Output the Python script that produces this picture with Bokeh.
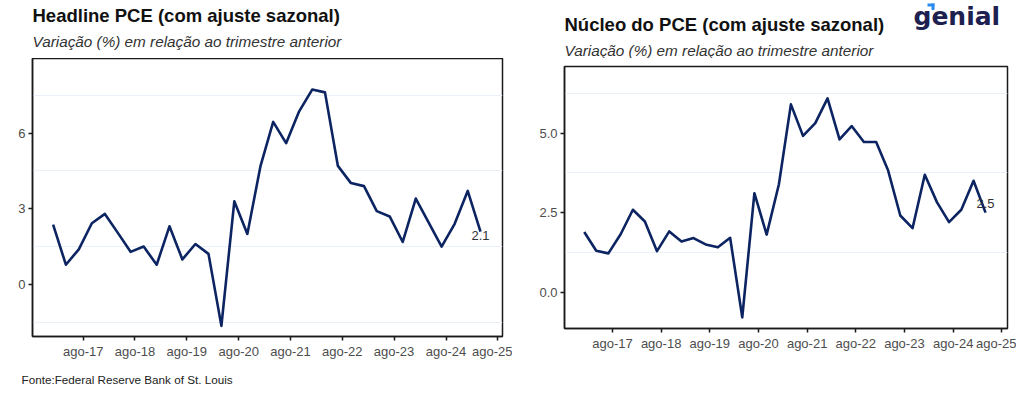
import pandas as pd
from bokeh.plotting import figure
from bokeh.layouts import row, column
from bokeh.models import Range1d, FixedTicker, Label, BoxAnnotation, NumeralTickFormatter
from bokeh.embed import file_html
from bokeh.resources import INLINE

# ---------------- data ----------------
quarters = pd.date_range("2017-01-01", periods=34, freq="QS")
headline_pce = [2.38, 0.79, 1.40, 2.43, 2.80, 2.06, 1.30, 1.51, 0.79, 2.31, 1.00, 1.61,
                1.22, -1.63, 3.30, 2.01, 4.68, 6.44, 5.60, 6.86, 7.72, 7.61, 4.70, 4.02,
                3.90, 2.91, 2.70, 1.69, 3.41, 2.46, 1.51, 2.41, 3.71, 2.10]
core_pce = [1.89, 1.30, 1.22, 1.82, 2.59, 2.22, 1.29, 1.91, 1.59, 1.70, 1.50, 1.41,
            1.71, -0.79, 3.11, 1.81, 3.39, 5.90, 4.91, 5.31, 6.09, 4.80, 5.22, 4.72,
            4.72, 3.82, 2.41, 2.01, 3.69, 2.83, 2.20, 2.59, 3.50, 2.50]
xtick_dates = ["2017-08-01", "2018-08-01", "2019-08-01", "2020-08-01", "2021-08-01",
               "2022-08-01", "2023-08-01", "2024-08-01", "2025-08-01"]
xtick_labels = ["ago-17", "ago-18", "ago-19", "ago-20", "ago-21", "ago-22", "ago-23",
                "ago-24", "ago-25"]
left_yticks = [0, 3, 6]
left_yminor = [-1.5, 1.5, 4.5, 7.5]
right_yticks = [0.0, 2.5, 5.0]
right_yminor = [1.25, 3.75, 6.25]

left_title = "Headline PCE (com ajuste sazonal)"
right_title = "Núcleo do PCE (com ajuste sazonal)"
subtitle = "Variação (%) em relação ao trimestre anterior"
source = "Fonte:Federal Reserve Bank of St. Louis"
logo_text = "genial"

LINE = "#0c2461"
FONT = "Liberation Sans"
YEAR_MS = 365.25 * 86400000
TOTAL_W = 1016


def ms(ts):
    return int(pd.Timestamp(ts).value // 10**6)


tick_ms = [ms(d) for d in xtick_dates]
x_ms = [ms(d) for d in quarters]


def blank(w, h):
    b = figure(width=w, height=h, output_backend="svg", toolbar_location=None,
               x_axis_location=None, y_axis_location=None,
               x_range=Range1d(0, w), y_range=Range1d(0, h),
               min_border=0, min_border_left=0, min_border_right=0,
               min_border_top=0, min_border_bottom=0)
    b.frame_align = False
    b.outline_line_color = None
    b.grid.visible = False
    b.background_fill_color = "white"
    b.border_fill_color = "white"
    return b


def make_panel(values, yticks, yminor, yrange, xpad_left, xpad_right, fw, fh, mb):
    p = figure(x_axis_type="datetime", output_backend="svg", toolbar_location=None,
               frame_width=fw, frame_height=fh,
               min_border_left=mb[0], min_border_right=mb[1],
               min_border_top=mb[2], min_border_bottom=mb[3],
               x_range=Range1d(tick_ms[0] - xpad_left * YEAR_MS, tick_ms[-1] + xpad_right * YEAR_MS),
               y_range=Range1d(*yrange))
    p.frame_align = False
    p.background_fill_color = "white"
    p.border_fill_color = "white"
    p.outline_line_color = "#1a1a1a"
    p.outline_line_width = 1.5
    p.line(x_ms, values, line_color=LINE, line_width=2.6, line_join="round")

    xt = FixedTicker(ticks=tick_ms)
    p.xaxis.ticker = xt
    p.xaxis.major_label_overrides = {t: lab for t, lab in zip(tick_ms, xtick_labels)}
    yt = FixedTicker(ticks=yticks, minor_ticks=yminor)
    p.yaxis.ticker = yt
    p.ygrid.ticker = yt
    p.xgrid.grid_line_color = None
    p.ygrid.grid_line_color = None
    p.ygrid.minor_grid_line_color = "#e9f0f8"
    p.ygrid.minor_grid_line_width = 1
    for ax in (p.xaxis, p.yaxis):
        ax.axis_line_color = "#1a1a1a"
        ax.axis_line_width = 1.5
        ax.major_tick_line_color = "#1a1a1a"
        ax.major_tick_line_width = 1.5
        ax.major_tick_out = 4
        ax.major_tick_in = 0
        ax.minor_tick_line_color = None
        ax.major_label_text_font = FONT
        ax.major_label_text_font_size = "13px"
        ax.major_label_text_color = "#4d4d4d"
        ax.major_label_standoff = 3
    return p


# Left panel: frame abs x 32..502, y 58..336
p1 = make_panel(headline_pce, left_yticks, left_yminor, (-2.05, 8.95),
                (82.7 - 32) / 51.83, (502 - 497.3) / 51.83, 470, 278, (32, 10, 0, 30))
# Right panel: frame abs x 564..1007, y 66..328
p2 = make_panel(core_pce, right_yticks, right_yminor, (-1.14, 7.09),
                (612 - 564) / 48.66, (1007 - 1001.3) / 48.66, 443, 262, (52, 9, 8, 38))
p2.yaxis.formatter = NumeralTickFormatter(format="0.0")

# End-value labels
p1.add_layout(Label(x=x_ms[-1], y=headline_pce[-1], text=f"{headline_pce[-1]:.1f}",
                    text_font=FONT, text_font_size="13px", text_color="#333333",
                    text_align="center", text_baseline="middle", y_offset=-4))
p2.add_layout(Label(x=x_ms[-1], y=core_pce[-1], text=f"{core_pce[-1]:.1f}",
                    text_font=FONT, text_font_size="13px", text_color="#333333",
                    text_align="center", text_baseline="middle", y_offset=9))

# Header (abs y 0..58); label y = 58 - abs_y
HH = 58
header = blank(TOTAL_W, HH)
header.add_layout(Label(x=32, y=HH - 15, text=left_title,
                        text_font=FONT, text_font_style="bold", text_font_size="18.5px",
                        text_color="#111111", text_baseline="middle"))
header.add_layout(Label(x=32, y=HH - 41, text=subtitle,
                        text_font=FONT, text_font_style="italic", text_font_size="15.3px",
                        text_color="#333333", text_baseline="middle"))
header.add_layout(Label(x=564, y=HH - 24, text=right_title,
                        text_font=FONT, text_font_style="bold", text_font_size="18.5px",
                        text_color="#111111", text_baseline="middle"))
header.add_layout(Label(x=564, y=HH - 50, text=subtitle,
                        text_font=FONT, text_font_style="italic", text_font_size="15.3px",
                        text_color="#333333", text_baseline="middle"))
header.add_layout(Label(x=913, y=HH - 1, text=logo_text,
                        text_font="DejaVu Sans", text_font_style="bold", text_font_size="25px",
                        text_color="#1d2150", text_baseline="top"))
header.add_layout(BoxAnnotation(left=927, right=934, top=HH - 3, bottom=HH - 6,
                                fill_color="#2a8cf0", fill_alpha=1.0, line_color=None))
header.add_layout(BoxAnnotation(left=931, right=934, top=HH - 3, bottom=HH - 9.5,
                                fill_color="#2a8cf0", fill_alpha=1.0, line_color=None))

# Footer (abs y 366..394)
FH = 28
footer = blank(TOTAL_W, FH)
footer.add_layout(Label(x=21, y=FH - (379 - 366), text=source,
                        text_font=FONT, text_font_size="11.7px",
                        text_color="#222222", text_baseline="middle"))

layout = column(header, row(p1, p2), footer)
open("out.html", "w").write(file_html(layout, INLINE))
